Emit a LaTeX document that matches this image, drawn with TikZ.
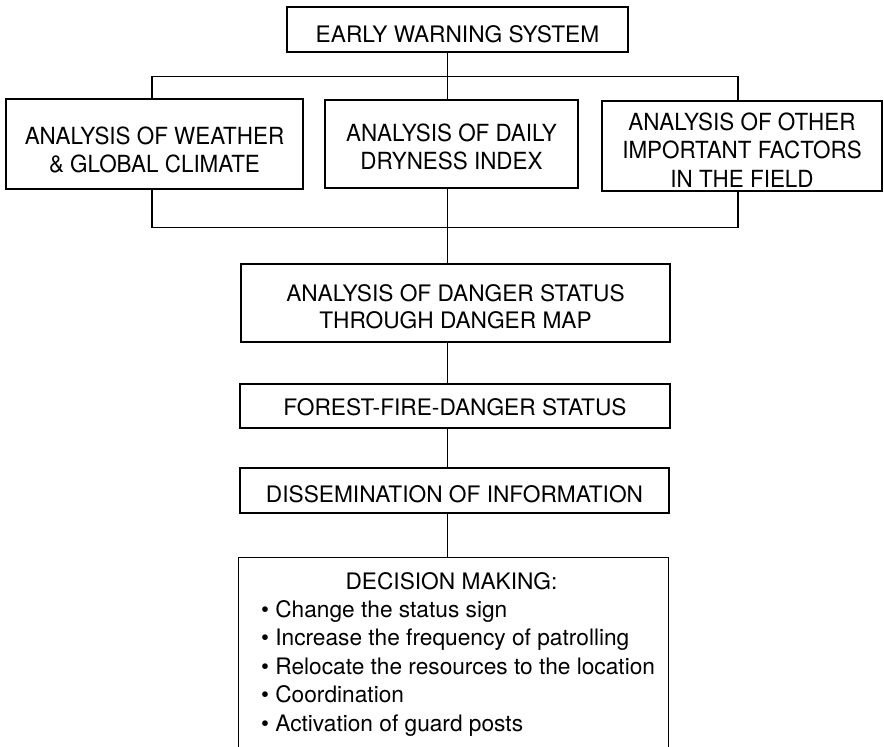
\documentclass[tikz,border=0pt]{standalone}
\usepackage{fontspec}
\setmainfont{TeX Gyre Heros}
\newfontfamily\narrowfont{TeX Gyre Heros}[FakeStretch=0.95]
% zero-width rule that pushes the first line of a box down
\newcommand\topgap[1]{\rule{0pt}{#1}}
\begin{document}
\begin{tikzpicture}[x=0.5pt,y=-0.5pt,line width=0.6pt,
  box/.style={draw,inner sep=0pt,align=center,
    font=\fontsize{11.35pt}{13.7pt}\selectfont},
  tierbox/.style={box,font=\narrowfont\fontsize{11.8pt}{14pt}\selectfont},
  txt/.style={inner sep=0pt,font=\fontsize{11.35pt}{14pt}\selectfont}]
\useasboundingbox (0,0) rectangle (884,747);

% top of the hierarchy
\node[box,minimum width=170.5pt,minimum height=22.5pt] (top) at (457.5,29.5)
  {\topgap{13pt}EARLY WARNING SYSTEM};

% the three analyses
\node[tierbox,minimum width=148.5pt,minimum height=45pt] (left) at (154.5,144)
  {\topgap{14.95pt}ANALYSIS OF WEATHER\\\& GLOBAL CLIMATE};
\node[tierbox,minimum width=126.5pt,minimum height=44pt] (mid) at (451.5,144)
  {\topgap{11.95pt}ANALYSIS OF DAILY\\DRYNESS INDEX};
\node[tierbox,font=\narrowfont\fontsize{11.8pt}{14.25pt}\selectfont,
  minimum width=140pt,minimum height=45pt] (right) at (742,146)
  {\topgap{12.7pt}ANALYSIS OF OTHER\\IMPORTANT FACTORS\\IN THE FIELD};

% the chain below
\node[box,minimum width=214.5pt,minimum height=39pt] (danger) at (455.5,303)
  {\topgap{12.15pt}ANALYSIS OF DANGER STATUS\\THROUGH DANGER MAP};
\node[box,minimum width=215pt,minimum height=22pt] (forest) at (455,406)
  {\topgap{9.45pt}FOREST-FIRE-DANGER STATUS};
\node[box,minimum width=214.5pt,minimum height=22.5pt] (dissem) at (454.5,490.5)
  {\topgap{11.95pt}DISSEMINATION OF INFORMATION};

% decision box, open at the bottom
\node[inner sep=0pt,minimum width=214.5pt,minimum height=96pt] (dec) at (453.5,654) {};
\draw (dec.south west) -- (dec.north west) -- (dec.north east) -- (dec.south east);
\node[txt,anchor=base] (dtitle) at (451.5,589.5) {DECISION MAKING:};
\node[txt,anchor=base west] (i1) at (260.5,617.5) {\textbullet\ Change the status sign};
\node[txt,anchor=base west] (i2) at (260.5,646) {\textbullet\ Increase the frequency of patrolling};
\node[txt,anchor=base west] (i3) at (260.5,674.5) {\textbullet\ Relocate the resources to the location};
\node[txt,anchor=base west] (i4) at (260.5,703) {\textbullet\ Coordination};
\node[txt,anchor=base west] (i5) at (260.5,731.5) {\textbullet\ Activation of guard posts};

% connector lines
\coordinate (spine) at (447.5,0);
\coordinate (lx) at (152,0);
\coordinate (rx) at (738,0);
\coordinate (busA) at (0,76.5);
\coordinate (busB) at (0,227.5);
\draw (top.south -| spine) -- (mid.north -| spine);
\draw (left.north -| lx) -- (busA -| lx) -- (busA -| rx) -- (right.north -| rx);
\draw (left.south -| lx) -- (busB -| lx) -- (busB -| rx) -- (right.south -| rx);
\draw (mid.south -| spine) -- (danger.north -| spine);
\draw (danger.south -| spine) -- (forest.north -| spine);
\draw (forest.south -| spine) -- (dissem.north -| spine);
\draw (dissem.south -| spine) -- (dec.north -| spine);
\end{tikzpicture}
\end{document}
